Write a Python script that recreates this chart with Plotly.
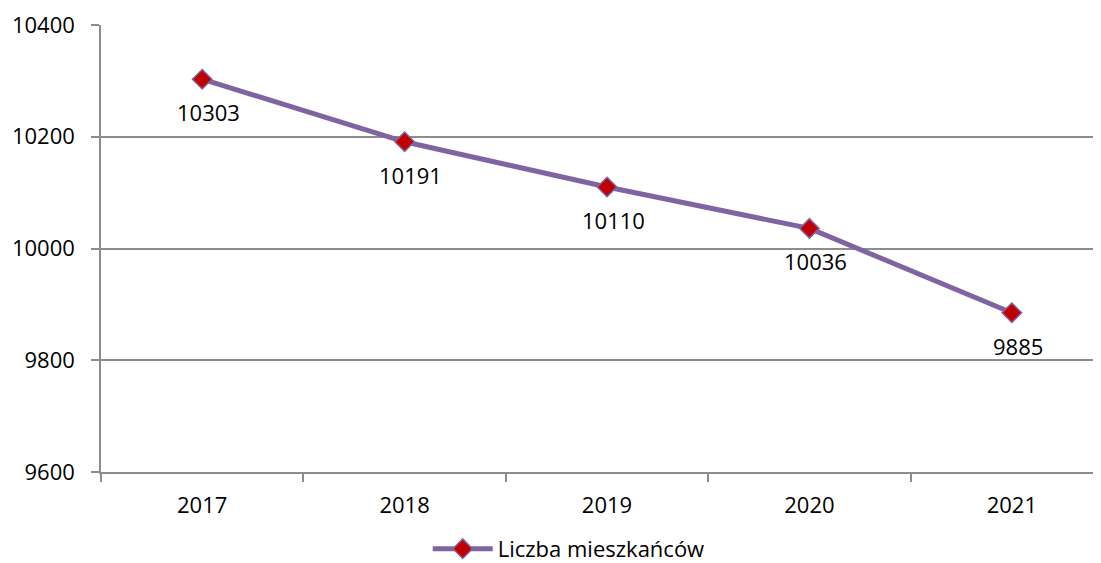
import plotly.graph_objects as go

years = ["2017", "2018", "2019", "2020", "2021"]
values = [10303, 10191, 10110, 10036, 9885]
labels = [str(v) for v in values]
y_ticks = [9600, 9800, 10000, 10200, 10400]
series_name = "Liczba mieszkańców"

FONT = "Open Sans"
FS = 22
GRID = "#8C8C8C"

fig = go.Figure()
fig.add_trace(go.Scatter(
    x=years, y=values, name=series_name,
    mode="lines+markers",
    line=dict(color="#8064A2", width=5),
    marker=dict(symbol="diamond", size=15, color="#C00000",
                line=dict(color="#8064A2", width=1.5)),
))
for i, (v, lab) in enumerate(zip(values, labels)):
    fig.add_annotation(x=i, y=v, xref="x", yref="y", text=lab, showarrow=False,
                       yshift=-33, xshift=6,
                       font=dict(family=FONT, size=FS, color="#000000"))

fig.update_layout(
    width=1101, height=563,
    margin=dict(l=93, r=0, t=17, b=99, autoexpand=False),
    paper_bgcolor="white", plot_bgcolor="white",
    font=dict(family=FONT, size=FS, color="#000000"),
    showlegend=True,
    legend=dict(orientation="h", x=0.464, xanchor="center", y=-0.172, yanchor="middle",
                font=dict(family=FONT, size=FS, color="#000000"), itemwidth=60),
)
fig.update_xaxes(
    type="category", range=[-0.5, 4.48], tickson="boundaries", automargin=False,
    showgrid=False, showline=True, linecolor=GRID, linewidth=1.5,
    ticks="outside", ticklen=8, tickcolor=GRID, tickwidth=1.5,
    ticklabelstandoff=13,
    tickfont=dict(family=FONT, size=FS), fixedrange=True,
)
fig.update_yaxes(
    range=[9600, 10400], tickvals=y_ticks, ticktext=[str(t) for t in y_ticks],
    automargin=False,
    showgrid=True, gridcolor=GRID, gridwidth=1.5,
    showline=True, linecolor=GRID, linewidth=1.5,
    ticks="outside", ticklen=8, tickcolor=GRID, tickwidth=1.5,
    ticklabelstandoff=12,
    tickfont=dict(family=FONT, size=FS), zeroline=False,
)

fig.write_html("out.html")
